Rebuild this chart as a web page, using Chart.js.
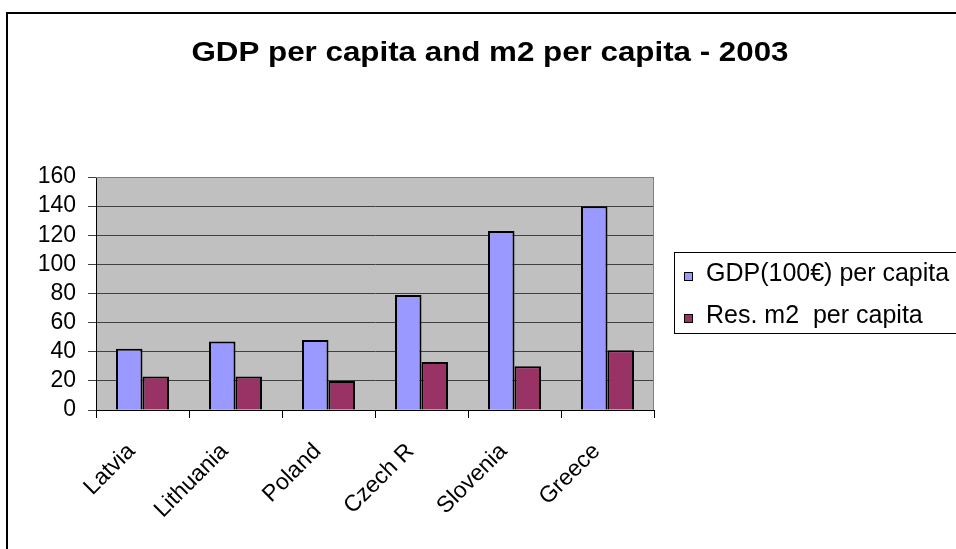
<!DOCTYPE html>
<html>
<head>
<meta charset="utf-8">
<script src="https://cdn.jsdelivr.net/npm/chart.js@4/dist/chart.umd.min.js"></script>
<style>
    body { margin: 0; background: #fff; }
    canvas { display: block; }
</style>
</head>
<body>
<canvas id="gdp-chart" width="956" height="549"></canvas>
<script>
const countries = ['Latvia', 'Lithuania', 'Poland', 'Czech R', 'Slovenia', 'Greece'];
const gdpPerCapita = [42, 47, 48, 79, 123, 140]; // GDP in 100 EUR
const resM2PerCapita = [23, 23, 20, 33, 30, 41];
const yTicks = [0, 20, 40, 60, 80, 100, 120, 140, 160];

const chartTitle = 'GDP per capita and m2 per capita - 2003';
const FONT = "'Liberation Sans', Arial, sans-serif";

// grey plot background + frame, title, outer chart border and the boxed legend
const excelLook = {
    id: 'excelLook',
    beforeDraw(chart) {
        const { ctx, chartArea: a } = chart;
        ctx.save();
        ctx.fillStyle = '#c0c0c0';
        ctx.fillRect(a.left, a.top, a.right - a.left, a.bottom - a.top);
        ctx.restore();
    },
    afterDraw(chart) {
        const { ctx, chartArea: a } = chart;
        ctx.save();
        // plot frame
        ctx.strokeStyle = '#808080';
        ctx.lineWidth = 1;
        ctx.beginPath();
        ctx.moveTo(a.left, a.top + 0.5);
        ctx.lineTo(a.right - 0.5, a.top + 0.5);
        ctx.lineTo(a.right - 0.5, a.bottom);
        ctx.stroke();

        // outer border
        ctx.strokeStyle = '#000';
        ctx.lineWidth = 2;
        ctx.strokeRect(7, 13, 1000, 1000);

        // title, slightly wide
        ctx.save();
        ctx.translate(490, 61);
        ctx.scale(1.16, 1);
        ctx.font = 'bold 27px ' + FONT;
        ctx.fillStyle = '#000';
        ctx.textAlign = 'center';
        ctx.textBaseline = 'alphabetic';
        ctx.fillText(chartTitle, 0, 0);
        ctx.restore();

        // legend
        const lx = 674, ly = 252, lh = 81;
        ctx.fillStyle = '#fff';
        ctx.fillRect(lx, ly, 400, lh);
        ctx.strokeStyle = '#000';
        ctx.lineWidth = 1;
        ctx.strokeRect(lx + 0.5, ly + 0.5, 400, lh);
        ctx.font = '25px ' + FONT;
        ctx.textBaseline = 'alphabetic';
        chart.data.datasets.forEach((ds, i) => {
            const base = 281 + i * 42;
            ctx.fillStyle = ds.backgroundColor;
            ctx.fillRect(684, base - 9, 8, 8);
            ctx.strokeStyle = '#000';
            ctx.strokeRect(684.5, base - 8.5, 8, 8);
            ctx.fillStyle = '#000';
            ctx.fillText(ds.label, 706, base);
        });
        ctx.restore();
    }
};

const ctx = document.getElementById('gdp-chart').getContext('2d');
new Chart(ctx, {
    type: 'bar',
    data: {
        labels: countries,
        datasets: [
            {
                label: 'GDP(100€) per capita',
                data: gdpPerCapita,
                backgroundColor: '#9999ff',
                borderColor: '#000',
                borderWidth: 2,
            },
            {
                label: 'Res. m2  per capita',
                data: resM2PerCapita,
                backgroundColor: '#993366',
                borderColor: '#000',
                borderWidth: 2,
            },
        ],
    },
    options: {
        responsive: false,
        animation: false,
        layout: {
            padding: { left: 0, right: 302, top: 177, bottom: 0 },
        },
        datasets: {
            bar: {
                categoryPercentage: 0.57,
                barPercentage: 1.0,
            },
        },
        plugins: {
            legend: { display: false },
            tooltip: { enabled: false },
            title: { display: false },
        },
        scales: {
            x: {
                grid: {
                    drawOnChartArea: false,
                    drawTicks: true,
                    tickLength: 8,
                    color: '#000',
                },
                border: { color: '#000', width: 1 },
                ticks: {
                    color: '#000',
                    font: { family: FONT, size: 23 },
                    minRotation: 45,
                    maxRotation: 45,
                    autoSkip: false,
                    padding: 20,
                    labelOffset: -11,
                },
                afterFit(scale) {
                    scale.height = 139;
                },
            },
            y: {
                min: 0,
                max: 160,
                afterBuildTicks(scale) {
                    scale.ticks = yTicks.map((v) => ({ value: v }));
                },
                grid: {
                    color: '#404040',
                    tickLength: 8,
                },
                border: { color: '#000', width: 1 },
                ticks: {
                    color: '#000',
                    font: { family: FONT, size: 23 },
                    autoSkip: false,
                    padding: 12,
                },
                afterFit(scale) {
                    scale.width = 96;
                },
            },
        },
    },
    plugins: [excelLook],
});
</script>
</body>
</html>
